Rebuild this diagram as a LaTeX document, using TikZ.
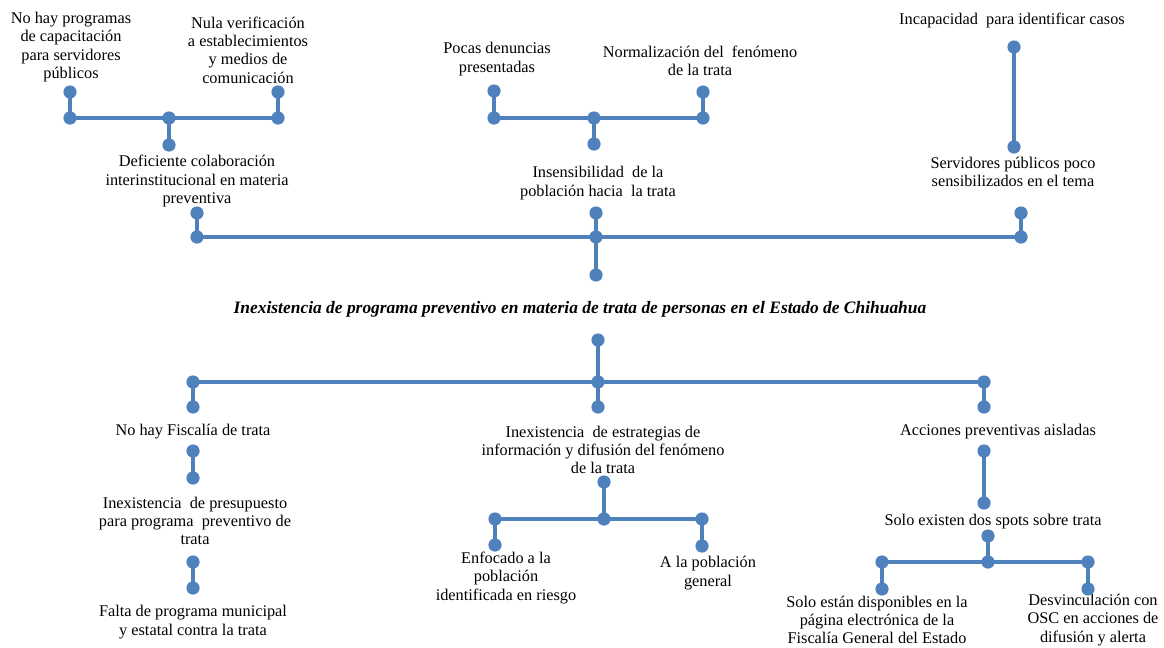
\documentclass[tikz,border=0pt]{standalone}
\usepackage{fontspec}
\setmainfont{Liberation Serif}
\usepackage{tikz}
\usetikzlibrary{shapes.geometric}
\definecolor{treeblue}{RGB}{79,129,189}
\tikzset{dot/.style={shape=circle, fill=treeblue, inner sep=0pt, minimum size=0.33cm}}
\tikzset{lbl/.style={align=center, inner sep=0pt, font=\fontsize{11.6}{13}\selectfont}}
\tikzset{link/.style={draw=treeblue, line width=2.8pt}}

\begin{document}
\begin{tikzpicture}[x=0.025cm, y=-0.025cm]
		\useasboundingbox (0,0) rectangle (1164,647);
		% upper branches
		\node[lbl] (T1) at (71,47) {No hay programas\\de capacitación\\para servidores\\públicos};
		\node[lbl] (T2) at (248,50) {Nula verificación\\a establecimientos\\y medios de\\comunicación};
		\node[lbl] (T3) at (197,181) {Deficiente colaboración\\interinstitucional en materia\\preventiva};
		\node[lbl] (T4) at (497,59) {Pocas denuncias\\presentadas};
		\node[lbl] (T5) at (700,61) {Normalización del\ \ fenómeno\\de la trata};
		\node[lbl] (T6) at (598,183) {Insensibilidad\ \ de la\\población hacia\ \ la trata};
		\node[lbl] (T7) at (1012,20) {Incapacidad\ \ para identificar casos};
		\node[lbl] (T8) at (1013,172) {Servidores públicos poco\\sensibilizados en el tema};
		% central problem
		\node[lbl, font=\fontsize{12.4}{14}\selectfont\bfseries\itshape] (P) at (580,309) {Inexistencia de programa preventivo en materia de trata de personas en el Estado de Chihuahua};
		% lower branches
		\node[lbl] (B1) at (193,432) {No hay Fiscalía de trata};
		\node[lbl] (B2) at (195,521) {Inexistencia\ \ de presupuesto\\para programa\ \ preventivo de\\trata};
		\node[lbl] (B3) at (193,622) {Falta de programa municipal\\y estatal contra la trata};
		\node[lbl] (B4) at (603,450) {Inexistencia\ \ de estrategias de\\información y difusión del fenómeno\\de la trata};
		\node[lbl] (B5) at (506,578) {Enfocado a la\\población\\identificada en riesgo};
		\node[lbl] (B6) at (708,573) {A la población\\general};
		\node[lbl] (B7) at (998,432) {Acciones preventivas aisladas};
		\node[lbl] (B8) at (993,522) {Solo existen dos spots sobre trata};
		\node[lbl] (B9) at (877,620) {Solo están disponibles en la\\página electrónica de la\\Fiscalía General del Estado};
		\node[lbl] (B10) at (1093,620) {Desvinculación con\\OSC en acciones de\\difusión y alerta};
		% dots
		\node[dot] (a1) at (70,92) {};
		\node[dot] (a2) at (70,118) {};
		\node[dot] (a3) at (169,118) {};
		\node[dot] (a4) at (169,145) {};
		\node[dot] (a5) at (278,118) {};
		\node[dot] (a6) at (278,92) {};
		\node[dot] (b1) at (494,91) {};
		\node[dot] (b2) at (494,118) {};
		\node[dot] (b3) at (594,118) {};
		\node[dot] (b4) at (594,144) {};
		\node[dot] (b5) at (703,118) {};
		\node[dot] (b6) at (703,92) {};
		\node[dot] (c1) at (1014,47) {};
		\node[dot] (c2) at (1014,147) {};
		\node[dot] (m1) at (197,213) {};
		\node[dot] (m2) at (197,237) {};
		\node[dot] (m3) at (596,213) {};
		\node[dot] (m4) at (596,237) {};
		\node[dot] (m5) at (1021,213) {};
		\node[dot] (m6) at (1021,237) {};
		\node[dot] (m7) at (596,275) {};
		\node[dot] (r0) at (598,340) {};
		\node[dot] (r1) at (598,382) {};
		\node[dot] (r2) at (193,382) {};
		\node[dot] (r3) at (984,382) {};
		\node[dot] (r4) at (193,407) {};
		\node[dot] (r5) at (598,407) {};
		\node[dot] (r6) at (984,407) {};
		\node[dot] (l1) at (193,451) {};
		\node[dot] (l2) at (193,478) {};
		\node[dot] (l3) at (193,562) {};
		\node[dot] (l4) at (193,588) {};
		\node[dot] (e1) at (604,482) {};
		\node[dot] (e2) at (604,519) {};
		\node[dot] (e3) at (495,519) {};
		\node[dot] (e4) at (495,545) {};
		\node[dot] (e5) at (702,519) {};
		\node[dot] (e6) at (702,546) {};
		\node[dot] (s1) at (984,451) {};
		\node[dot] (s2) at (984,503) {};
		\node[dot] (s3) at (988,536) {};
		\node[dot] (s4) at (988,562) {};
		\node[dot] (s5) at (882,562) {};
		\node[dot] (s6) at (882,589) {};
		\node[dot] (s7) at (1088,562) {};
		\node[dot] (s8) at (1088,589) {};
		% connectors
		\path[link] (a1.center) edge (a2.center) (a2.center) edge (a5.center)
			(a5.center) edge (a6.center) (a3.center) edge (a4.center);
		\path[link] (b1.center) edge (b2.center) (b2.center) edge (b5.center)
			(b5.center) edge (b6.center) (b3.center) edge (b4.center);
		\path[link] (c1.center) edge (c2.center);
		\path[link] (m1.center) edge (m2.center) (m2.center) edge (m6.center)
			(m5.center) edge (m6.center) (m3.center) edge (m4.center) (m4.center) edge (m7.center);
		\path[link] (r0.center) edge (r1.center) (r2.center) edge (r3.center)
			(r2.center) edge (r4.center) (r1.center) edge (r5.center) (r3.center) edge (r6.center);
		\path[link] (l1.center) edge (l2.center) (l3.center) edge (l4.center);
		\path[link] (e1.center) edge (e2.center) (e3.center) edge (e5.center)
			(e3.center) edge (e4.center) (e5.center) edge (e6.center);
		\path[link] (s1.center) edge (s2.center) (s3.center) edge (s4.center) (s5.center) edge (s7.center)
			(s5.center) edge (s6.center) (s7.center) edge (s8.center);
	\end{tikzpicture}
\end{document}
